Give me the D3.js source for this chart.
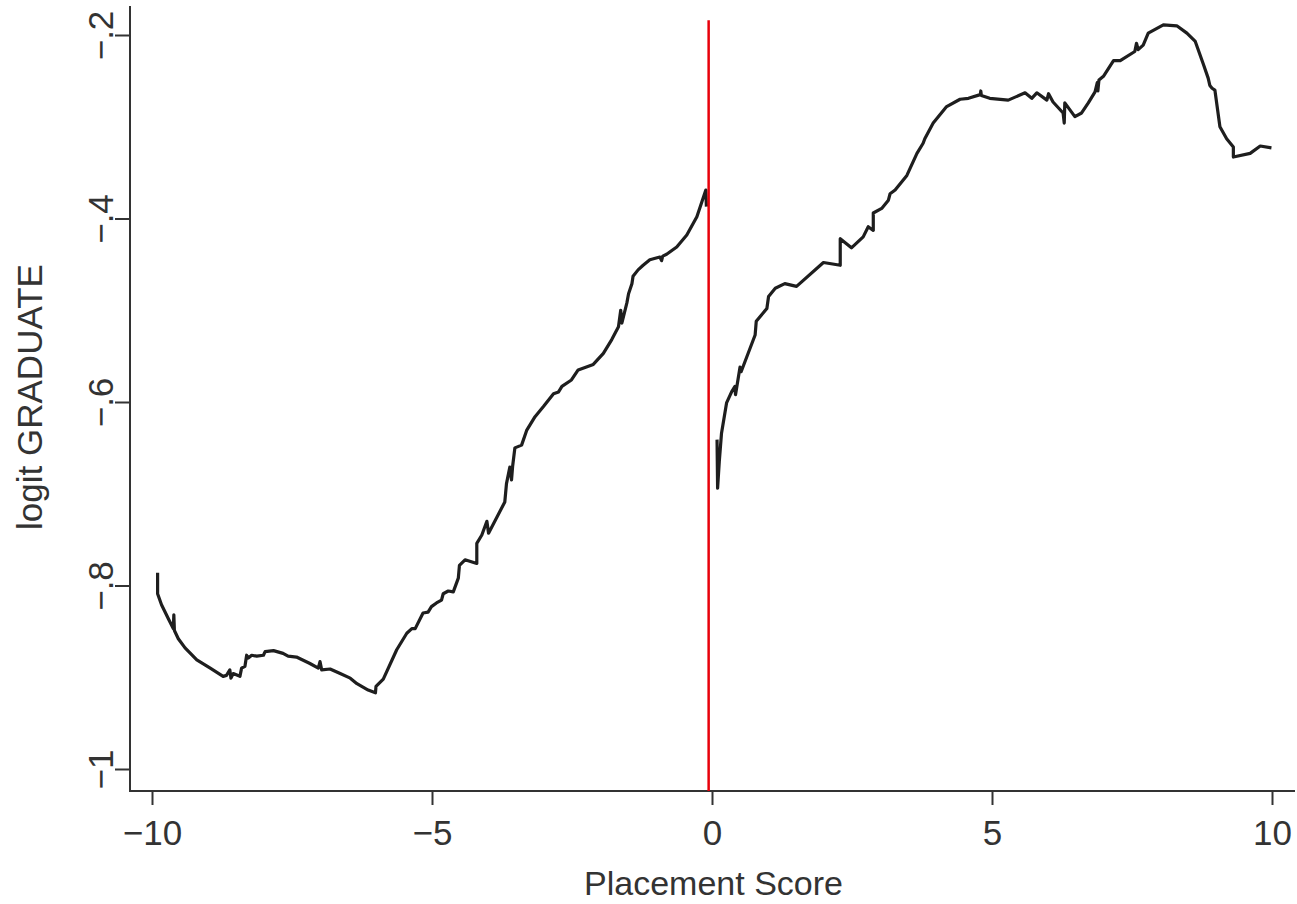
<!DOCTYPE html>
<html>
<head>
<meta charset="utf-8">
<script src="https://cdn.jsdelivr.net/npm/d3@7"></script>
<style>
  html, body { margin: 0; padding: 0; background: #fff; }
  svg { display: block; }
</style>
</head>
<body>
<div id="chart"></div>
<script>
// placement score (x) and fitted logit GRADUATE (y), left of cutoff
const leftX = [-9.90, -9.90, -9.83, -9.71, -9.62, -9.61, -9.60, -9.53, -9.41, -9.20, -8.96, -8.73, -8.67, -8.61, -8.59, -8.55,
  -8.43, -8.40, -8.34, -8.31, -8.28, -8.22, -8.13, -8.01, -7.98, -7.83, -7.66, -7.57, -7.42, -7.18, -7.03, -7.00, -6.97,
  -6.82, -6.64, -6.46, -6.34, -6.14, -6.01, -6.00, -5.87, -5.63, -5.45, -5.36, -5.30, -5.16, -5.07, -5.01, -4.92, -4.83,
  -4.80, -4.71, -4.62, -4.53, -4.51, -4.41, -4.20, -4.20, -4.11, -4.02, -3.99, -3.70, -3.67, -3.61, -3.58, -3.56, -3.52,
  -3.40, -3.31, -3.16, -3.01, -2.83, -2.74, -2.68, -2.51, -2.39, -2.12, -1.94, -1.79, -1.67, -1.63, -1.61, -1.52, -1.49,
  -1.43, -1.41, -1.32, -1.23, -1.11, -0.93, -0.90, -0.88, -0.81, -0.63, -0.45, -0.27, -0.11, -0.10]
const leftY = [-0.786, -0.809, -0.821, -0.836, -0.847, -0.832, -0.849, -0.858, -0.868, -0.881, -0.890, -0.899, -0.898, -0.892,
  -0.901, -0.896, -0.899, -0.890, -0.888, -0.876, -0.879, -0.876, -0.877, -0.876, -0.872, -0.871, -0.874, -0.877, -0.878,
  -0.885, -0.890, -0.883, -0.892, -0.891, -0.896, -0.901, -0.907, -0.914, -0.917, -0.910, -0.902, -0.870, -0.852, -0.847,
  -0.847, -0.830, -0.829, -0.823, -0.819, -0.816, -0.809, -0.806, -0.807, -0.792, -0.778, -0.772, -0.776, -0.754, -0.745,
  -0.730, -0.743, -0.709, -0.689, -0.671, -0.685, -0.670, -0.650, -0.647, -0.631, -0.616, -0.605, -0.591, -0.589, -0.583,
  -0.576, -0.565, -0.559, -0.547, -0.532, -0.518, -0.500, -0.514, -0.492, -0.482, -0.471, -0.463, -0.456, -0.451, -0.445,
  -0.442, -0.446, -0.441, -0.439, -0.431, -0.418, -0.398, -0.369, -0.387]

// right of cutoff
const rightX = [0.09, 0.10, 0.13, 0.17, 0.26, 0.35, 0.41, 0.42, 0.50, 0.52, 0.77, 0.79, 0.98, 1.01, 1.13, 1.30, 1.51, 1.99,
  2.29, 2.29, 2.49, 2.70, 2.79, 2.88, 2.88, 3.03, 3.15, 3.18, 3.27, 3.48, 3.66, 3.77, 3.80, 3.95, 4.19, 4.43, 4.58, 4.79,
  4.80, 4.81, 4.96, 5.29, 5.59, 5.71, 5.80, 5.98, 6.01, 6.09, 6.27, 6.29, 6.30, 6.48, 6.60, 6.72, 6.84, 6.88, 6.89, 6.91,
  6.99, 7.17, 7.29, 7.55, 7.58, 7.61, 7.70, 7.79, 8.06, 8.30, 8.48, 8.63, 8.77, 8.86, 8.89, 8.93, 8.98, 9.07, 9.19, 9.31,
  9.31, 9.61, 9.79, 9.99]
const rightY = [-0.641, -0.694, -0.665, -0.634, -0.601, -0.589, -0.583, -0.592, -0.562, -0.567, -0.527, -0.512, -0.498,
  -0.485, -0.476, -0.471, -0.474, -0.448, -0.451, -0.422, -0.432, -0.420, -0.409, -0.413, -0.394, -0.389, -0.380, -0.373,
  -0.369, -0.353, -0.329, -0.318, -0.313, -0.296, -0.278, -0.270, -0.269, -0.265, -0.261, -0.266, -0.269, -0.271, -0.263,
  -0.269, -0.263, -0.271, -0.264, -0.273, -0.285, -0.296, -0.274, -0.289, -0.285, -0.274, -0.262, -0.252, -0.261, -0.249,
  -0.245, -0.228, -0.228, -0.218, -0.209, -0.216, -0.211, -0.198, -0.189, -0.190, -0.198, -0.207, -0.231, -0.247, -0.255,
  -0.258, -0.260, -0.300, -0.313, -0.322, -0.333, -0.329, -0.321, -0.323]

const cutoff = -0.06
const cutoffTop = -0.184
const xTicks = [-10, -5, 0, 5, 10]
const yTicks = [-1, -0.8, -0.6, -0.4, -0.2]
const yTickLabels = ["\u22121", "\u2212.8", "\u2212.6", "\u2212.4", "\u2212.2"]
const xTickLabels = ["\u221210", "\u22125", "0", "5", "10"]

const width = 1297
const height = 904
const plot = { left: 130, right: 1295, top: 6, bottom: 791 }
const font = "'Liberation Sans', Arial, Helvetica, sans-serif"
const ink = "#333"

const x = d3.scaleLinear().domain([-10, 10]).range([152, 1272])
const y = d3.scaleLinear().domain([-1, -0.2]).range([769, 35])

const svg = d3.select("#chart").append("svg")
  .attr("width", width)
  .attr("height", height)
  .attr("font-family", font)

// x axis
const xAxis = svg.append("g")
  .attr("transform", `translate(0,${plot.bottom})`)
  .call(d3.axisBottom(x).tickValues(xTicks).tickSize(14).tickPadding(15)
    .tickFormat((d, i) => xTickLabels[i]))
xAxis.select(".domain").remove()
xAxis.selectAll(".tick line").attr("stroke", ink).attr("stroke-width", 2)
xAxis.selectAll(".tick text").attr("fill", ink).attr("font-size", 35)
xAxis.append("line")
  .attr("x1", plot.left).attr("x2", plot.right)
  .attr("stroke", ink).attr("stroke-width", 2)

// y axis
const yAxis = svg.append("g")
  .attr("transform", `translate(${plot.left},0)`)
  .call(d3.axisLeft(y).tickValues(yTicks).tickSize(15).tickFormat((d, i) => yTickLabels[i]))
yAxis.select(".domain").remove()
yAxis.selectAll(".tick line").attr("stroke", ink).attr("stroke-width", 2)
yAxis.selectAll(".tick text")
  .attr("fill", ink).attr("font-size", 35)
  .attr("x", null).attr("dy", null)
  .attr("text-anchor", "middle")
  .attr("transform", "translate(-17,0) rotate(-90)")
yAxis.append("line")
  .attr("y1", plot.top).attr("y2", plot.bottom + 1)
  .attr("stroke", ink).attr("stroke-width", 2)

// titles
svg.append("text")
  .attr("x", (plot.left + plot.right) / 2 + 1)
  .attr("y", 895)
  .attr("text-anchor", "middle")
  .attr("font-size", 34)
  .attr("fill", ink)
  .text("Placement Score")

svg.append("text")
  .attr("transform", `translate(42,${y(-0.6) - 5}) rotate(-90)`)
  .attr("text-anchor", "middle")
  .attr("font-size", 35)
  .attr("fill", ink)
  .text("logit GRADUATE")

// fitted lines
const line = d3.line().x(d => x(d[0])).y(d => y(d[1]))
const segments = [d3.zip(leftX, leftY), d3.zip(rightX, rightY)]

svg.append("g")
  .selectAll("path")
  .data(segments)
  .join("path")
  .attr("fill", "none")
  .attr("stroke", "#1e1e1e")
  .attr("stroke-width", 3.2)
  .attr("stroke-linejoin", "round")
  .attr("d", line)

// cutoff line
svg.append("line")
  .attr("x1", x(cutoff)).attr("x2", x(cutoff))
  .attr("y1", y(cutoffTop)).attr("y2", plot.bottom)
  .attr("stroke", "#e8000b")
  .attr("stroke-width", 2.5)
</script>
</body>
</html>
